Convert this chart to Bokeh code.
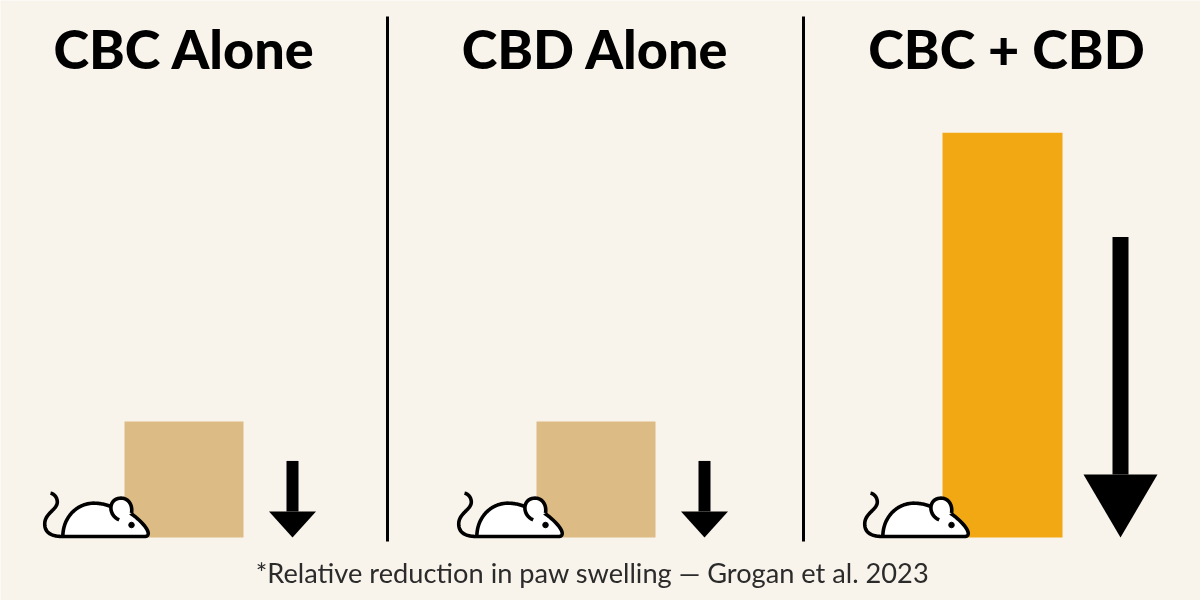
from bokeh.plotting import figure
from bokeh.models import Range1d
from bokeh.core.properties import value
from bokeh.embed import file_html
from bokeh.resources import INLINE
import numpy as np

# Data
titles = ["CBC Alone", "CBD Alone", "CBC + CBD"]
bar_values = [1.0, 1.0, 3.49]
arrow_values = [0.66, 0.66, 2.59]
bar_colors = ["#DDBB85", "#DDBB85", "#F1A812"]
footnote = "*Relative reduction in paw swelling \u2014 Grogan et al. 2023"

# Layout (pixels of the 1200x600 canvas)
W, H, BASE, UNIT = 1200, 600, 537, 116.0
title_x = [184, 595, 1006]
bar_left = [124, 536, 942]
bar_right = [243, 655, 1062]
arrow_x = [292, 704, 1120]
shaft_w = [12, 12, 16]
head_w = [47, 47, 74]
head_h = [26, 26, 63]
mouse_dx = [0, 414, 820]
dividers = [387, 803]

def yd(py):
    return (BASE - py) / UNIT

p = figure(width=W, height=H, output_backend="svg", toolbar_location=None,
           x_range=Range1d(0, W), y_range=Range1d(yd(H), yd(0)),
           min_border=0, outline_line_color=None)
p.styles = {"position": "fixed", "left": "0", "top": "0"}
p.axis.visible = False
p.grid.visible = False
p.background_fill_color = "#F8F3EB"
p.border_fill_color = "#F8F3EB"

p.quad(left=bar_left, right=bar_right, bottom=[0, 0, 0], top=bar_values,
       fill_color=bar_colors, line_color=None)

for x in dividers:
    p.line([x, x], [yd(16), yd(541)], line_color="#000000", line_width=3)

# Arrows
head_base = [h / UNIT for h in head_h]
p.quad(left=[x - w / 2 for x, w in zip(arrow_x, shaft_w)],
       right=[x + w / 2 for x, w in zip(arrow_x, shaft_w)],
       bottom=head_base, top=arrow_values, fill_color="#000000", line_color=None)
p.patches(xs=[[x - w / 2, x + w / 2, x] for x, w in zip(arrow_x, head_w)],
          ys=[[b, b, 0] for b in head_base], fill_color="#000000", line_color=None)

# Mouse icon: cubic Bezier paths in zoom-crop units
def bez(*segs, n=24):
    out = []
    for s in segs:
        a, b, c, d = [np.array(q, float) for q in s]
        t = np.linspace(0, 1, n)[:, None]
        out.append((1-t)**3*a + 3*(1-t)**2*t*b + 3*(1-t)*t**2*c + t**3*d)
    return np.vstack(out)

def tr(pts, dx):
    return [30 + q / 3 + dx for q in pts[:, 0]], [yd(450 + q / 3) for q in pts[:, 1]]

body = bez(((97, 258), (97, 200), (140, 158), (190, 158)),
           ((190, 158), (215, 158), (235, 165), (250, 172)),
           ((250, 172), (270, 170), (285, 175), (300, 188)),
           ((300, 188), (325, 205), (355, 235), (353, 250)),
           ((353, 250), (352, 258), (345, 258), (340, 258)),
           ((340, 258), (260, 258), (180, 258), (97, 258)))
ear = bez(((266, 208), (232, 195), (232, 143), (272, 143)),
          ((272, 143), (295, 143), (307, 165), (303, 188)))
tail = bez(((97, 258), (60, 258), (40, 245), (43, 215)),
           ((43, 215), (47, 185), (85, 175), (80, 150)),
           ((80, 150), (78, 138), (70, 130), (60, 128)))
LW = 3.6
for dx in mouse_dx:
    bx, by = tr(body, dx)
    p.patch(bx, by, fill_color="#FFFFFF", line_color="#000000", line_width=LW)
    ex, ey = tr(ear, dx)
    p.patch(ex, ey, fill_color="#FFFFFF", line_color=None)
    p.line(ex, ey, line_color="#000000", line_width=LW)
    tx, ty = tr(tail, dx)
    p.line(tx, ty, line_color="#000000", line_width=LW)
    p.scatter([131 + dx], [yd(524.5)], size=5.5, color="#000000")

# Text
p.text(x=title_x, y=[yd(48)] * 3, text=titles, text_font=value("Lato Black"),
       text_font_size="54px", text_color="#000000",
       text_align="center", text_baseline="alphabetic")
p.text(x=[592], y=[yd(572)], text=[footnote], text_font=value("Lato"),
       text_font_size="27.2px", text_color="#2b2b2b",
       text_align="center", text_baseline="alphabetic")

open("out.html", "w").write(file_html(p, INLINE))
